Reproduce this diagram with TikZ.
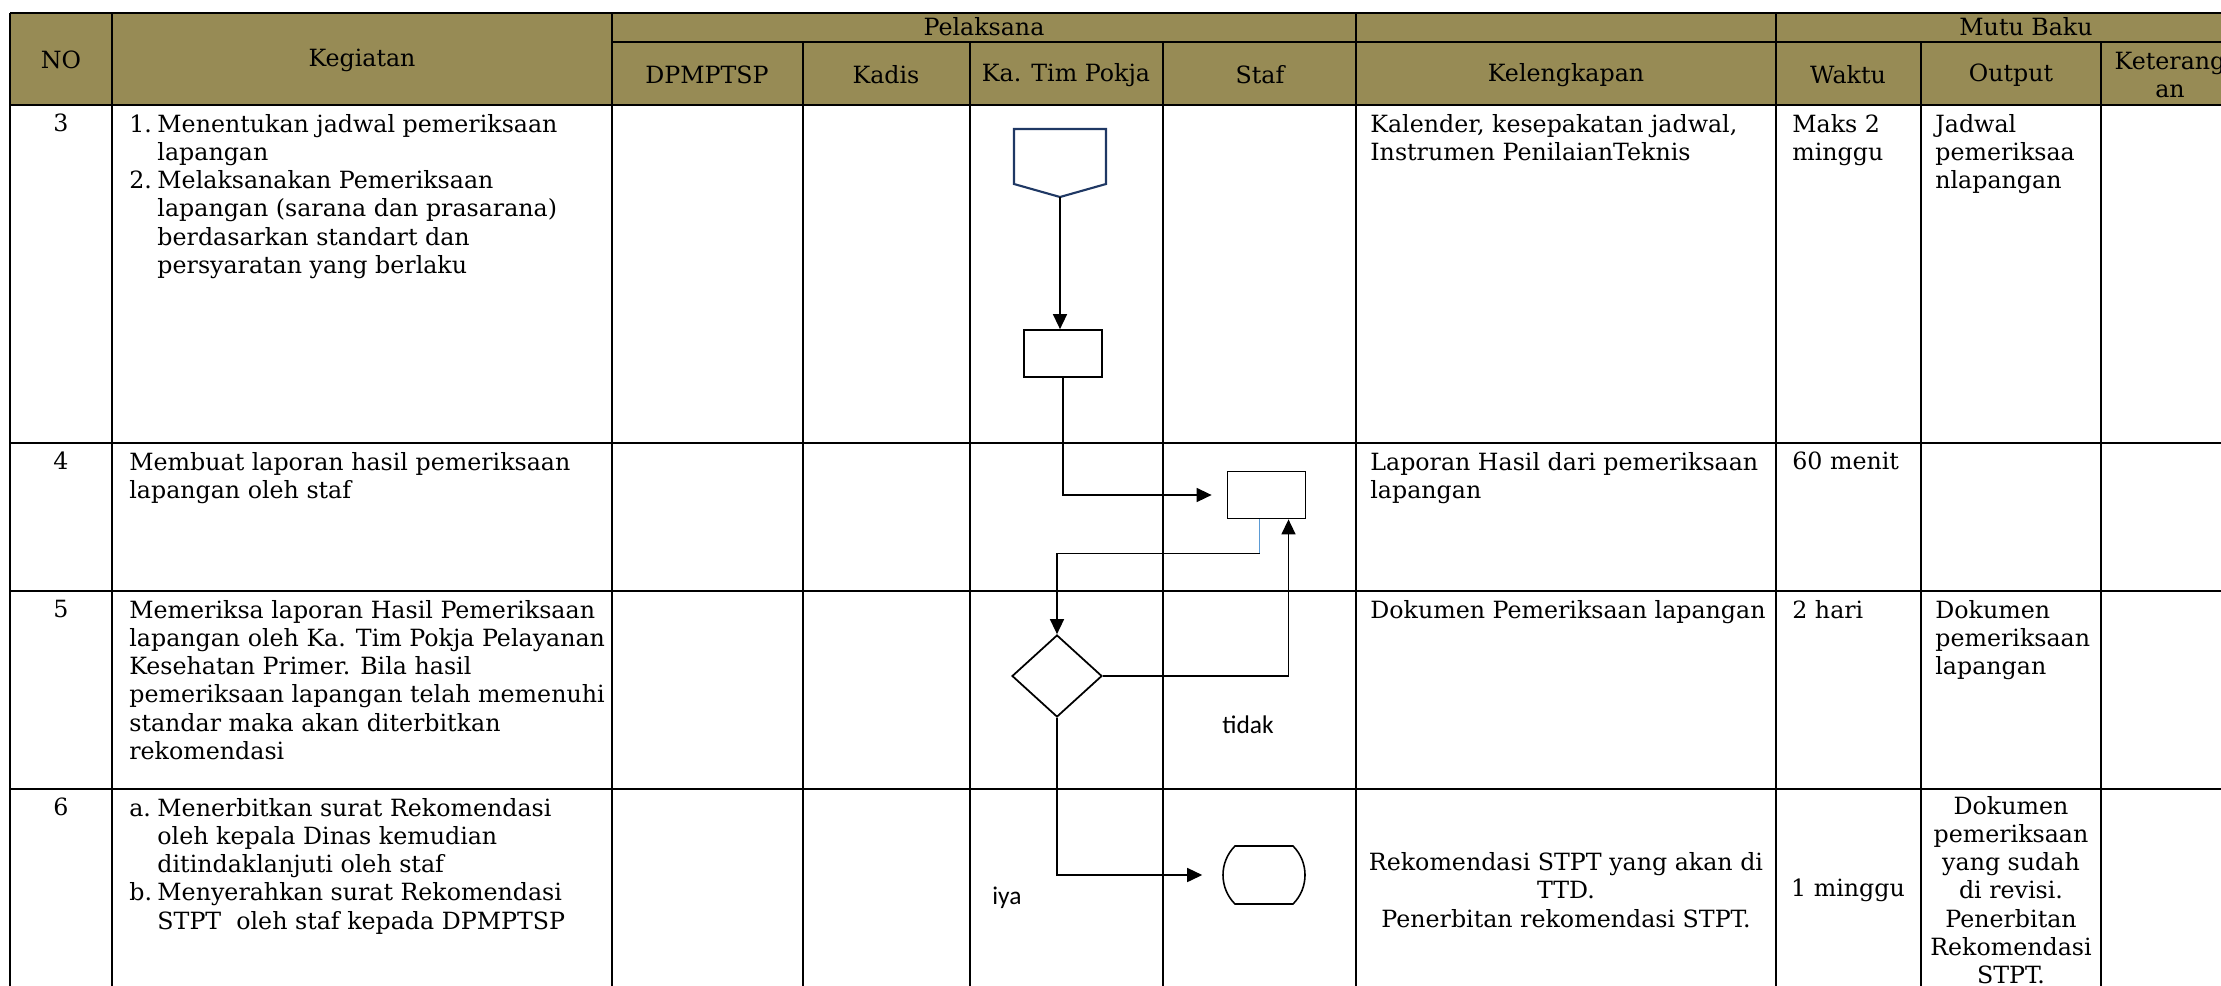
\documentclass[tikz,border=0pt]{standalone}
\usepackage{fontspec}
\setmainfont{DejaVu Serif}
\newfontfamily\lblfont{Carlito}
\usetikzlibrary{arrows.meta,calc,shapes.geometric,shapes.misc}
\definecolor{hdrolive}{RGB}{151,139,85}
\definecolor{offblue}{RGB}{31,56,100}
\definecolor{linkblue}{RGB}{91,155,213}
\newcommand{\FlowTip}{Triangle[length=.3cm,width=.28cm]}
\newcommand{\Ind}{\hspace*{16pt}}
\newcommand{\Num}[1]{\makebox[16pt][l]{#1}}
\tikzset{tbl/.style={line width=1.1pt},flow/.style={line width=.85pt,-{\FlowTip}},
txt/.style={anchor=north west,inner sep=0,align=left},ctr/.style={inner sep=0,align=center},
procbox/.style={draw,line width=1pt,minimum width=1.56cm,minimum height=.94cm,inner sep=0},
decision/.style={diamond,draw,line width=1pt,minimum width=1.8cm,minimum height=1.64cm,inner sep=0},
endbox/.style={rounded rectangle,rounded rectangle arc length=90,draw,line width=.9pt,minimum width=1.56cm,minimum height=1.16cm,inner sep=0},
lbl/.style={inner sep=0,font=\lblfont\fontsize{14.5}{17}\selectfont}}

\begin{document}
\begin{tikzpicture}[x=.02cm,y=-.02cm,font=\fontsize{13.5}{16.05}\selectfont]
\useasboundingbox (0,0) rectangle (2221,985);
\fill[hdrolive](10,13)rectangle(2300,105);
\draw[tbl](10,13)--(2300,13)(612,42)--(2300,42)(10,105)--(2300,105)(10,443)--(2300,443)(10,591)--(2300,591)(10,789)--(2300,789);
\foreach \x in {10,112,612,1356,1776}\draw[tbl](\x,13)--(\x,1000);
\foreach \x in {803,970,1163,1921,2101}\draw[tbl](\x,42)--(\x,1000);
\node[ctr](hNo)at(61,60){NO};\node[ctr](hKeg)at(362,60){Kegiatan};\node[ctr](hPel)at(984,27){Pelaksana};\node[ctr](hMutu)at(2026,27){Mutu Baku};
\node[ctr](hDpm)at(707,75){DPMPTSP};\node[ctr](hKadis)at(886,75){Kadis};\node[ctr](hKatim)at(1066,75){Ka. Tim Pokja};\node[ctr](hStaf)at(1260,75){Staf};
\node[ctr](hKel)at(1566,75){Kelengkapan};\node[ctr](hWaktu)at(1848,75){Waktu};\node[ctr](hOut)at(2011,75){Output};\node[ctr](hKet)at(2170,75){Keterang\\an};
\node[ctr,anchor=north](n3)at(61,114){3};\node[ctr,anchor=north](n4)at(61,452){4};\node[ctr,anchor=north](n5)at(61,600){5};\node[ctr,anchor=north](n6)at(61,798){6};
\node[txt](k3)at(129,114){\Num{1.}Menentukan jadwal pemeriksaan\\\Ind lapangan\\\Num{2.}Melaksanakan Pemeriksaan\\\Ind lapangan (sarana dan prasarana)\\\Ind berdasarkan standart dan\\\Ind persyaratan yang berlaku};
\node[txt](k4)at(129,452){Membuat laporan hasil pemeriksaan\\lapangan oleh staf};
\node[txt](k5)at(129,600){Memeriksa laporan Hasil Pemeriksaan\\lapangan oleh Ka. Tim Pokja Pelayanan\\Kesehatan Primer. Bila hasil\\pemeriksaan lapangan telah memenuhi\\standar maka akan diterbitkan\\rekomendasi};
\node[txt](k6)at(129,798){\Num{a.}Menerbitkan surat Rekomendasi\\\Ind oleh kepala Dinas kemudian\\\Ind ditindaklanjuti oleh staf\\\Num{b.}Menyerahkan surat Rekomendasi\\\Ind STPT\ \ oleh staf kepada DPMPTSP};
\node[txt](l3)at(1370,114){Kalender, kesepakatan jadwal,\\Instrumen PenilaianTeknis};
\node[txt](l4)at(1370,452){Laporan Hasil dari pemeriksaan\\lapangan};
\node[txt](l5)at(1370,600){Dokumen Pemeriksaan lapangan};
\node[ctr](l6)at(1566,890){Rekomendasi STPT yang akan di\\TTD.\\Penerbitan rekomendasi STPT.};
\node[txt](w3)at(1792,114){Maks 2\\minggu};\node[txt](w4)at(1792,452){60 menit};\node[txt](w5)at(1792,600){2 hari};\node[ctr](w6)at(1848,890){1 minggu};
\node[txt](o3)at(1935,114){Jadwal\\pemeriksaa\\nlapangan};\node[txt](o5)at(1935,600){Dokumen\\pemeriksaan\\lapangan};
\node[ctr](o6)at(2011,890){Dokumen\\pemeriksaan\\yang sudah\\di revisi.\\Penerbitan\\Rekomendasi\\STPT.};
\draw[offblue,line width=1.2pt](1014,129)--(1106,129)--(1106,184)--(1060,197)--(1014,184)--cycle;\coordinate(mulai)at(1060,197);
\node[procbox](periksa)at(1063,353.5){};\node[procbox](lapor)at(1266.5,495){};
\node[decision](cek)at(1057,676){};\node[endbox](rekom)at(1264,875){};
\node[lbl](tidak)at(1248,725){tidak};\node[lbl](iya)at(1007,898){iya};
\draw[flow](mulai)--(mulai|-periksa.north);
\draw[flow,shorten >=.3cm](periksa.south)|-(lapor.west);
\draw[linkblue,line width=.85pt]($(lapor.south)+(-7,0)$)--++(0,34)coordinate(belok);
\draw[flow](belok)-|(cek.north);
\draw[flow](cek.east)-|($(lapor.south)+(22,0)$);
\draw[flow,shorten >=.4cm](cek.south)|-(rekom.west);
\end{tikzpicture}
\end{document}
